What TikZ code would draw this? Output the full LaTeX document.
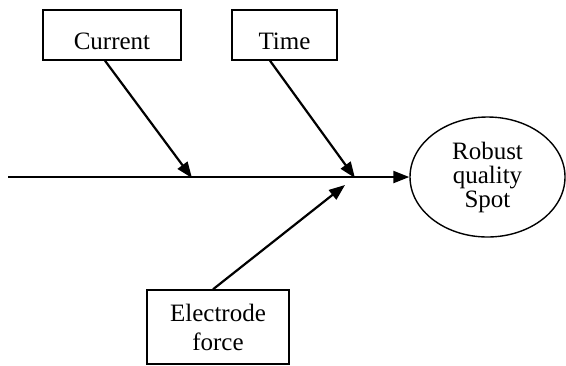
\documentclass[tikz,border=0pt]{standalone}
\usepackage{fontspec}
\setmainfont{Liberation Serif}
\usetikzlibrary{shapes.geometric, arrows.meta}
\tikzstyle{cause} = [rectangle, draw=black, line width=0.7pt, text centered, align=center, font=\fontsize{12.5}{14.5}\selectfont, inner sep=0pt]
\tikzstyle{effect} = [ellipse, draw=black, line width=0.7pt, text centered, align=center, font=\fontsize{12.5}{12}\selectfont, inner sep=0pt, minimum width=77.5pt, minimum height=60pt]
\tikzstyle{arrow} = [line width=1.1pt, -{Triangle[length=8pt, width=6pt]}]

\begin{document}
\begin{tikzpicture}[x=0.5pt, y=-0.5pt]
            \useasboundingbox (0,0) rectangle (566,365);
            \node (current) [cause, minimum width=69pt, minimum height=25pt, text height=14pt, text depth=0pt] at (112,35) {Current};
            \node (time) [cause, minimum width=52.5pt, minimum height=25pt, text height=14pt, text depth=0pt] at (284.5,35) {Time};
            \node (electrode) [cause, minimum width=71pt, minimum height=37pt] at (218,327) {Electrode\\force};
            \node (spot) [effect] at (487.5,177) {Robust\\quality\\Spot};
            \coordinate (tail) at (8,177);
            \coordinate (c1) at (192,178);
            \coordinate (t1) at (355,178);
            \coordinate (e1) at (345,185);

            \draw [arrow] (tail) -- (spot.west);
            \draw [arrow] ([xshift=-3.5pt]current.south) -- (c1);
            \draw [arrow] ([xshift=-7.25pt]time.south) -- (t1);
            \draw [arrow] ([xshift=-2.5pt]electrode.north) -- (e1);
        \end{tikzpicture}
\end{document}
